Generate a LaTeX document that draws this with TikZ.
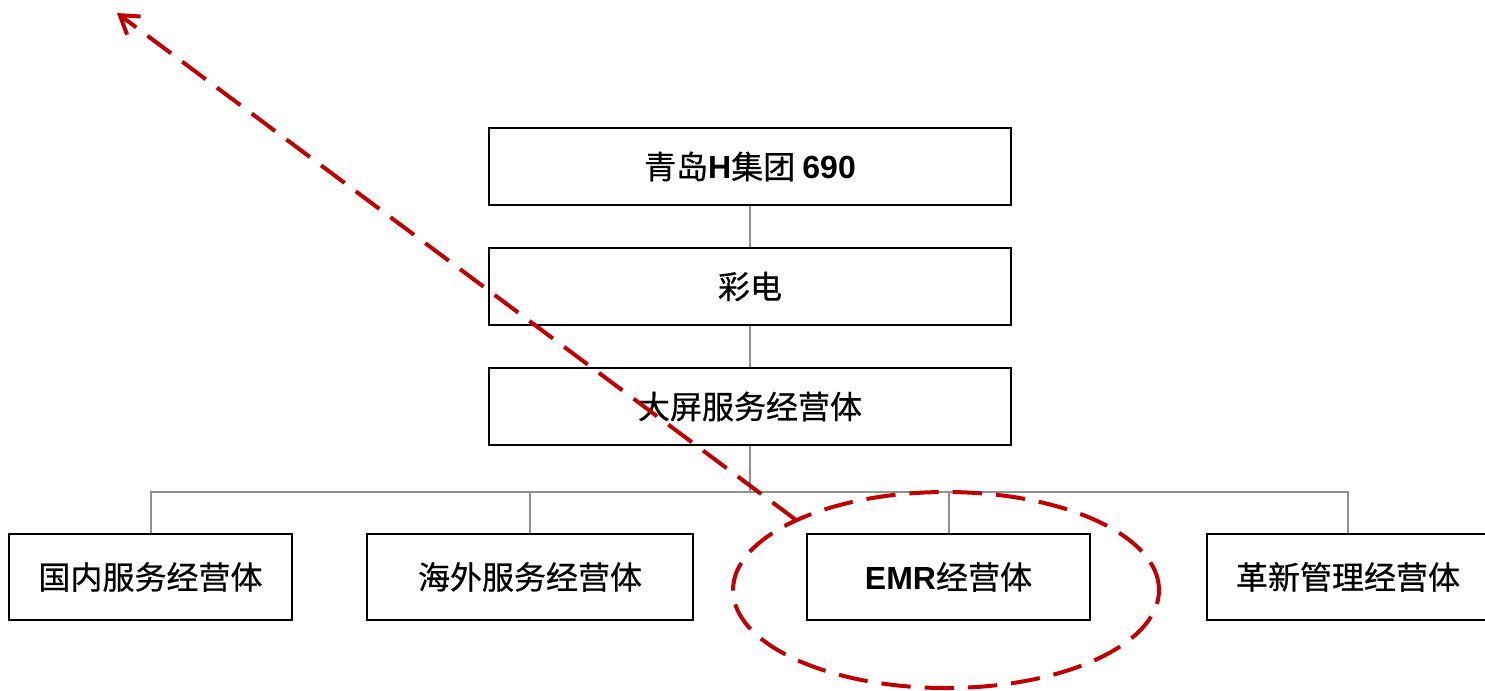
\documentclass[tikz,border=0pt]{standalone}
\usepackage{fontspec}
\setmainfont{Noto Sans CJK SC}[FakeBold=0.6]
\newfontfamily\arialb{Liberation Sans}
\usepackage{tikz}
\usetikzlibrary{positioning, arrows.meta}
\definecolor{darkred}{RGB}{192,0,0}
\newcommand{\lat}[1]{{\arialb\bfseries #1}}

\begin{document}
\begin{tikzpicture}[x=0.75pt,y=-0.75pt,node distance=90pt,
                    font=\fontsize{24pt}{27pt}\selectfont]
\tikzstyle{unit}=[draw=black,line width=1.5pt,inner sep=0pt,minimum width=391.5pt,minimum height=57.75pt]
\tikzstyle{sub}=[unit,minimum width=212.25pt,minimum height=64.5pt]
\tikzstyle{link}=[draw=black!43,line width=1.5pt]
\tikzstyle{hint}=[draw=darkred,line width=3pt,dash pattern=on 22pt off 10.5pt]

  \useasboundingbox (0,0) rectangle (1485,690);

        \node[unit]                        (0)   at (750,166.5)   {青岛\lat{H}集团 \lat{690}};
        \node[unit]                        (1)   [below of=0]     {彩电};
        \node[unit]                        (2)   [below of=1]     {大屏服务经营体};

        \node[sub]                         (3)   at (150.5,577)   {国内服务经营体};
        \node[sub, minimum width=244.5pt]  (4)   at (530,577)     {海外服务经营体};
        \node[sub]                         (5)   at (948.5,577)   {\lat{EMR}经营体};
        \node[sub]                         (6)   at (1348,577)    {革新管理经营体};

        \coordinate (bus) at (750,492);
        \coordinate (focus) at (946,590);
        \coordinate (tail) at (796,520);
        \coordinate (tip) at (117,13);

        \draw[link] (0) -- (1);
        \draw[link] (1) -- (2);
        \draw[link] (2) -- (bus);
        \draw[link] (3) |- (bus) -| (6);
        \draw[link] (4) -- (4 |- bus);
        \draw[link] (5) -- (5 |- bus);

        \draw[hint] (focus) ellipse [x radius=159.75pt, y radius=73.5pt];
        \draw[hint, -{Straight Barb[length=13pt,width=17pt]}] (tail) -- (tip); %end path

\end{tikzpicture}
\end{document}
